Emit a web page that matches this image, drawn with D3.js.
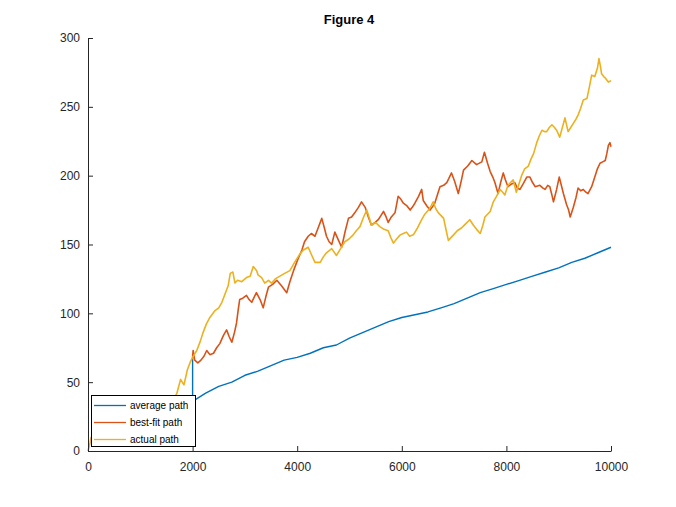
<!DOCTYPE html>
<html>
<head>
<meta charset="utf-8">
<script src="https://cdn.jsdelivr.net/npm/d3@7"></script>
<style>
  html, body { margin: 0; padding: 0; background: #fff; }
  svg { display: block; }
  text { font-family: "Liberation Sans", Arial, Helvetica, sans-serif; }
</style>
</head>
<body>
<svg id="chart" width="676" height="507"></svg>
<script>
// ---------------- data ----------------
const titleText = "Figure 4";
const seriesNames = ["average path", "best-fit path", "actual path"];
const seriesColors = ["#0072BD", "#D95319", "#EDB120"];
const xTicks = [0, 2000, 4000, 6000, 8000, 10000];
const yTicks = [0, 50, 100, 150, 200, 250, 300];

const averageT = [2000, 2000, 2250, 2500, 2750, 3000, 3250, 3500, 3750, 4000, 4250, 4500, 4750, 5000, 5250, 5500, 5750, 6000, 6250, 6500, 6750, 7000, 7250, 7500, 7750, 8000, 8250, 8500, 8750, 9000, 9250, 9500, 9750, 10000];
const averageV = [68, 36, 42, 47, 50, 55, 58, 62, 66, 68, 71, 75, 77, 82, 86, 90, 94, 97, 99, 101, 104, 107, 111, 115, 118, 121, 124, 127, 130, 133, 137, 140, 144, 148];

const bestFitT = [2000, 2010, 2040, 2100, 2160, 2220, 2270, 2330, 2400, 2460, 2520, 2590, 2650, 2700, 2750, 2800, 2840, 2870, 2900, 2960, 3030, 3080, 3130, 3180, 3220, 3290, 3350, 3400, 3450, 3530, 3610, 3700, 3800, 3860, 3930, 4010, 4090, 4140, 4210, 4270, 4340, 4400, 4470, 4520, 4560, 4610, 4660, 4720, 4790, 4850, 4920, 4980, 5040, 5100, 5170, 5230, 5300, 5360, 5420, 5490, 5550, 5600, 5650, 5700, 5740, 5800, 5870, 5930, 5980, 6030, 6100, 6160, 6200, 6250, 6320, 6380, 6410, 6480, 6540, 6580, 6630, 6680, 6730, 6800, 6860, 6900, 6950, 7010, 7080, 7130, 7180, 7260, 7340, 7430, 7530, 7580, 7640, 7690, 7740, 7780, 7840, 7890, 7940, 7980, 8030, 8100, 8160, 8210, 8260, 8320, 8390, 8450, 8500, 8550, 8640, 8700, 8740, 8790, 8830, 8870, 8900, 8960, 9010, 9050, 9090, 9150, 9190, 9220, 9280, 9330, 9370, 9420, 9470, 9520, 9560, 9630, 9690, 9740, 9790, 9840, 9890, 9920, 9950, 9980, 10000];
const bestFitV = [68, 73, 66, 64, 66, 69, 73, 70, 71, 75, 78, 84, 88, 83, 79, 86, 93, 102, 110, 111, 113, 110, 108, 112, 115, 110, 104, 112, 119, 121, 124, 120, 115, 123, 131, 139, 146, 152, 156, 158, 156, 162, 169, 162, 156, 152, 150, 159, 153, 148, 160, 169, 170, 173, 177, 181, 177, 170, 164, 166, 168, 171, 174, 170, 166, 170, 173, 185, 183, 180, 178, 175, 177, 180, 185, 190, 182, 178, 175, 177, 180, 186, 192, 193, 195, 198, 202, 196, 187, 195, 204, 207, 211, 208, 210, 217, 209, 203, 199, 195, 187, 195, 202, 197, 192, 194, 195, 191, 190, 194, 199, 199, 195, 192, 193, 191, 190, 193, 192, 186, 181, 190, 199, 193, 187, 179, 175, 170, 177, 184, 191, 189, 190, 188, 187, 192, 199, 205, 209, 210, 211, 216, 222, 224, 221];

const actualT = [0, 40, 60, 150, 300, 500, 700, 900, 1100, 1300, 1500, 1650, 1700, 1770, 1835, 1900, 1960, 2000, 2080, 2150, 2200, 2260, 2330, 2430, 2500, 2560, 2620, 2680, 2720, 2770, 2810, 2860, 2940, 3030, 3100, 3160, 3225, 3250, 3320, 3380, 3450, 3510, 3580, 3670, 3760, 3860, 3950, 4050, 4120, 4210, 4280, 4340, 4440, 4500, 4560, 4660, 4750, 4830, 4910, 4990, 5070, 5130, 5200, 5270, 5330, 5380, 5420, 5500, 5580, 5660, 5740, 5790, 5840, 5900, 5970, 6030, 6090, 6150, 6220, 6300, 6380, 6440, 6510, 6560, 6600, 6650, 6700, 6750, 6800, 6850, 6890, 6940, 6990, 7060, 7140, 7220, 7300, 7370, 7430, 7500, 7550, 7590, 7640, 7690, 7750, 7810, 7880, 7930, 7970, 8030, 8080, 8130, 8190, 8240, 8290, 8350, 8420, 8470, 8520, 8580, 8630, 8680, 8730, 8770, 8820, 8870, 8920, 8960, 9020, 9070, 9120, 9180, 9230, 9280, 9330, 9370, 9420, 9470, 9540, 9590, 9630, 9690, 9740, 9770, 9800, 9820, 9860, 9890, 9950, 10000];
const actualV = [0, 6, 10, 8, 12, 15, 18, 22, 25, 30, 34, 38, 42, 52, 48, 59, 65, 68, 73, 80, 86, 92, 97, 102, 104, 108, 114, 120, 129, 130, 122, 124, 123, 126, 127, 134, 131, 128, 126, 122, 124, 122, 125, 127, 129, 131, 137, 143, 146, 148, 142, 137, 137, 141, 144, 147, 142, 147, 152, 154, 157, 160, 163, 170, 175, 169, 164, 166, 163, 161, 160, 155, 151, 154, 157, 158, 159, 156, 157, 162, 168, 172, 175, 178, 181, 176, 173, 171, 169, 160, 153, 155, 157, 160, 162, 165, 168, 164, 161, 158, 164, 170, 172, 174, 181, 185, 190, 188, 186, 193, 195, 197, 188, 194, 200, 205, 207, 212, 216, 224, 229, 233, 232, 232, 235, 237, 235, 233, 228, 235, 242, 232, 235, 238, 241, 244, 249, 255, 256, 265, 273, 272, 278, 285, 279, 274, 272, 271, 268, 269];

// ---------------- drawing ----------------
const svg = d3.select("#chart");
const plotLeft = 88, plotRight = 611, plotTop = 38, plotBottom = 451;
const axisColor = "#262626";

const x = d3.scaleLinear().domain([0, 10000]).range([plotLeft, plotRight]);
const y = d3.scaleLinear().domain([0, 300]).range([plotBottom, plotTop]);

svg.append("rect").attr("width", 676).attr("height", 507).attr("fill", "#fff");

// title
svg.append("text")
  .attr("x", 349).attr("y", 24)
  .attr("text-anchor", "middle")
  .attr("font-size", 13).attr("font-weight", "bold")
  .attr("fill", "#000")
  .text(titleText);

// series
const series = [
  { t: averageT, v: averageV, w: 1.4 },
  { t: bestFitT, v: bestFitV, w: 1.6 },
  { t: actualT, v: actualV, w: 1.6 }
];
const line = d3.line().x(d => x(d[0])).y(d => y(d[1]));
series.forEach((s, i) => {
  const pts = s.t.map((t, k) => [t, s.v[k]]);
  svg.append("path")
    .datum(pts)
    .attr("d", line)
    .attr("fill", "none")
    .attr("stroke", seriesColors[i])
    .attr("stroke-width", s.w)
    .attr("stroke-linejoin", "round");
});

// axes (ticks pointing inward)
const xAxis = d3.axisBottom(x).tickValues(xTicks).tickSizeInner(-5).tickSizeOuter(0).tickPadding(11)
  .tickFormat(d3.format("d"));
const yAxis = d3.axisLeft(y).tickValues(yTicks).tickSizeInner(-5).tickSizeOuter(0).tickPadding(8)
  .tickFormat(d3.format("d"));

const gx = svg.append("g").attr("transform", `translate(0,${plotBottom})`).call(xAxis);
const gy = svg.append("g").attr("transform", `translate(${plotLeft},0)`).call(yAxis);
[gx, gy].forEach(g => {
  g.select(".domain").attr("stroke", axisColor).attr("stroke-width", 1);
  g.selectAll(".tick line").attr("stroke", axisColor).attr("stroke-width", 1);
  g.selectAll(".tick text")
    .attr("fill", axisColor)
    .attr("font-size", 12)
    .attr("font-family", "Liberation Sans, Arial, sans-serif");
});

// legend
const lg = svg.append("g");
lg.append("rect")
  .attr("x", 91.5).attr("y", 395.5)
  .attr("width", 104).attr("height", 51)
  .attr("fill", "#fff").attr("stroke", "#000").attr("stroke-width", 1);
const rowY = [405.5, 422.5, 439.5];
seriesNames.forEach((name, i) => {
  lg.append("line")
    .attr("x1", 94).attr("x2", 126)
    .attr("y1", rowY[i]).attr("y2", rowY[i])
    .attr("stroke", seriesColors[i]).attr("stroke-width", 1.3);
  lg.append("text")
    .attr("x", 130).attr("y", rowY[i] + 3.5)
    .attr("font-size", 10)
    .attr("fill", "#000")
    .text(name);
});
</script>
</body>
</html>
